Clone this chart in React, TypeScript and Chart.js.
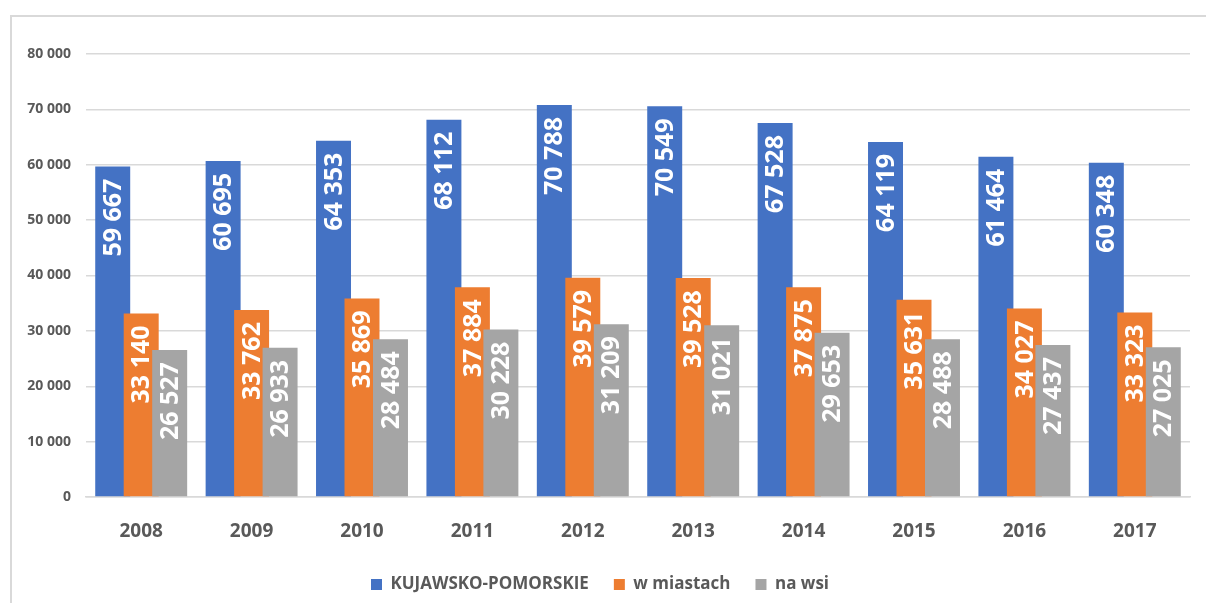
import React, { useEffect, useRef } from "react";
import { Chart, registerables } from "chart.js";

Chart.register(...registerables);

const years = ["2008", "2009", "2010", "2011", "2012", "2013", "2014", "2015", "2016", "2017"];
const regionTotal = [59667, 60695, 64353, 68112, 70788, 70549, 67528, 64119, 61464, 60348];
const urban = [33140, 33762, 35869, 37884, 39579, 39528, 37875, 35631, 34027, 33323];
const rural = [26527, 26933, 28484, 30228, 31209, 31021, 29653, 28488, 27437, 27025];
const seriesNames = ["KUJAWSKO-POMORSKIE", "w miastach", "na wsi"];
const seriesColors = ["#4472C4", "#ED7D31", "#A5A5A5"];

const FONT = "'Open Sans', 'Noto Sans', sans-serif";

function fmt(v: number): string {
  const s = String(Math.round(v));
  return s.replace(/\B(?=(\d{3})+(?!\d))/g, " ");
}

const drawOrderPlugin = {
  id: "drawOrder",
  beforeDatasetsDraw(chart: any) {
    for (let i = 0; i < chart.data.datasets.length; i++) {
      const meta = chart.getDatasetMeta(i);
      if (meta.visible !== false) meta.controller.draw();
    }
    return false;
  },
};

const labelPlugin = {
  id: "barLabels",
  afterDraw(chart: any) {
    const ctx = chart.ctx;
    ctx.save();
    ctx.fillStyle = "#FFFFFF";
    ctx.font = `bold 25px ${FONT}`;
    ctx.textAlign = "right";
    ctx.textBaseline = "middle";
    chart.data.datasets.forEach((ds: any, di: number) => {
      const meta = chart.getDatasetMeta(di);
      meta.data.forEach((bar: any, i: number) => {
        ctx.save();
        ctx.translate(bar.x + 1, bar.y + 12);
        ctx.rotate(-Math.PI / 2);
        ctx.fillText(fmt(ds.data[i]), 0, 0);
        ctx.restore();
      });
    });
    ctx.restore();
  },
};

export default function App() {
  const ref = useRef<HTMLCanvasElement | null>(null);
  useEffect(() => {
    if (!ref.current) return;
    const chart = new Chart(ref.current, {
      type: "bar",
      data: {
        labels: years,
        datasets: [regionTotal, urban, rural].map((d, i) => ({
          label: seriesNames[i],
          data: d,
          backgroundColor: seriesColors[i],
          borderWidth: 0,
          categoryPercentage: 0.774,
          barPercentage: 1.228,
        })),
      },
      options: {
        responsive: false,
        animation: false,
        layout: { padding: { left: 10, right: 16, top: 54, bottom: 0 } },
        plugins: {
          tooltip: { enabled: false },
          legend: {
            position: "bottom",
            labels: {
              boxWidth: 11,
              boxHeight: 11,
              padding: 25,
              color: "#595959",
              font: { family: FONT, size: 17, weight: "bold" },
            },
          },
        },
        scales: {
          x: {
            grid: { display: false, drawTicks: false },
            border: { color: "#D9D9D9", width: 1.5 },
            ticks: {
              color: "#595959",
              padding: 23,
              font: { family: FONT, size: 19, weight: "bold" },
            },
            afterFit: (s: any) => {
              s.height = 54;
            },
          },
          y: {
            min: 0,
            max: 80000,
            grid: { color: "#D9D9D9", lineWidth: 1.5, drawTicks: false },
            border: { display: false },
            ticks: {
              stepSize: 10000,
              padding: 15,
              color: "#595959",
              font: { family: FONT, size: 14, weight: "bold" },
              callback: (v: any) => fmt(Number(v)),
            },
            afterFit: (s: any) => {
              s.width = 76;
            },
          },
        },
      },
      plugins: [drawOrderPlugin, labelPlugin],
    } as any);
    return () => chart.destroy();
  }, []);

  return (
    <div style={{ position: "absolute", left: 0, top: 0, width: 1206, height: 603, overflow: "hidden", background: "#fff" }}>
      <div
        style={{
          position: "absolute",
          left: 10,
          top: 15,
          width: 1196,
          height: 588,
          borderLeft: "2px solid #D9D9D9",
          borderTop: "2px solid #D9D9D9",
          boxSizing: "border-box",
        }}
      />
      <canvas ref={ref} width={1206} height={603} style={{ position: "absolute", left: 0, top: 0 }} />
    </div>
  );
}
